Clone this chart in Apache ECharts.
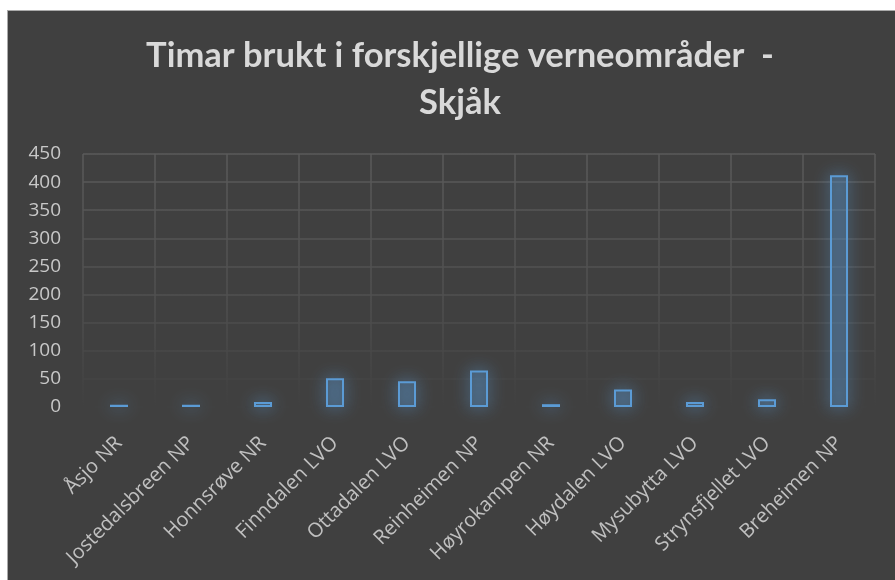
<!DOCTYPE html>
<html>
<head>
<meta charset="utf-8">
<script src="https://cdn.jsdelivr.net/npm/echarts@6/dist/echarts.min.js"></script>
<style>
  html, body { margin: 0; padding: 0; background: #ffffff; }
  #bg { position: absolute; left: 7px; top: 10px; width: 888px; height: 570px; background: #404040; border-left: 1.5px solid #aaaaaa; border-top: 1.5px solid #aaaaaa; box-sizing: border-box; }
  #chart { position: absolute; left: 0; top: 0; width: 895px; height: 580px; }
</style>
</head>
<body>
<div id="bg"></div>
<div id="chart"></div>
<script>
const titleText = 'Timar brukt i forskjellige verneområder  -\nSkjåk';
const categories = ['Åsjo NR', 'Jostedalsbreen NP', 'Honnsrøve NR', 'Finndalen LVO', 'Ottadalen LVO', 'Reinheimen NP', 'Høyrokampen NR', 'Høydalen LVO', 'Mysubytta LVO', 'Strynsfjellet LVO', 'Breheimen NP'];
const hours = [4, 4, 9, 51, 46, 65, 5, 31, 9, 14, 412];
const yTicks = [0, 50, 100, 150, 200, 250, 300, 350, 400, 450];

const chart = echarts.init(document.getElementById('chart'), null, { renderer: 'canvas' });
const gridTop = 154, gridBottom = 173;
const lineGrad = new echarts.graphic.LinearGradient(0, gridTop, 0, 580 - gridBottom, [
  { offset: 0, color: '#5a5a5a' },
  { offset: 0.6, color: '#4f4f4f' },
  { offset: 1, color: '#404040' }
], true);

chart.setOption({
  backgroundColor: 'transparent',
  title: {
    text: titleText,
    left: 455,
    textAlign: 'center',
    top: 27,
    textStyle: {
      fontFamily: 'Lato',
      fontWeight: 'bold',
      fontSize: 34.5,
      lineHeight: 47,
      color: '#d9d9d9'
    }
  },
  grid: { left: 83, right: 20, top: gridTop, bottom: gridBottom },
  xAxis: {
    type: 'category',
    data: categories,
    axisLine: { show: false },
    axisTick: { show: false },
    axisLabel: {
      rotate: 45,
      interval: 0,
      margin: 33,
      fontFamily: 'Open Sans',
      fontSize: 20,
      color: '#c0c0c0'
    },
    splitLine: { show: true, interval: 0, lineStyle: { color: lineGrad, width: 1.5 } }
  },
  yAxis: {
    type: 'value',
    min: 0,
    max: 450,
    interval: 50,
    axisLine: { show: false },
    axisTick: { show: false },
    axisLabel: {
      margin: 22,
      fontFamily: 'Open Sans',
      fontSize: 19,
      color: '#c8c8c8',
      formatter: function (v) { return yTicks.indexOf(v) >= 0 ? String(v) : ''; }
    },
    splitLine: { show: true, lineStyle: { color: lineGrad, width: 1.5 } }
  },
  series: [{
    type: 'bar',
    data: hours,
    barWidth: 18,
    itemStyle: {
      color: 'rgba(91,155,213,0.22)',
      borderColor: '#5b9bd5',
      borderWidth: 2,
      shadowBlur: 16,
      shadowColor: 'rgba(91,155,213,1)'
    }
  }],
  animation: false
});
</script>
</body>
</html>
